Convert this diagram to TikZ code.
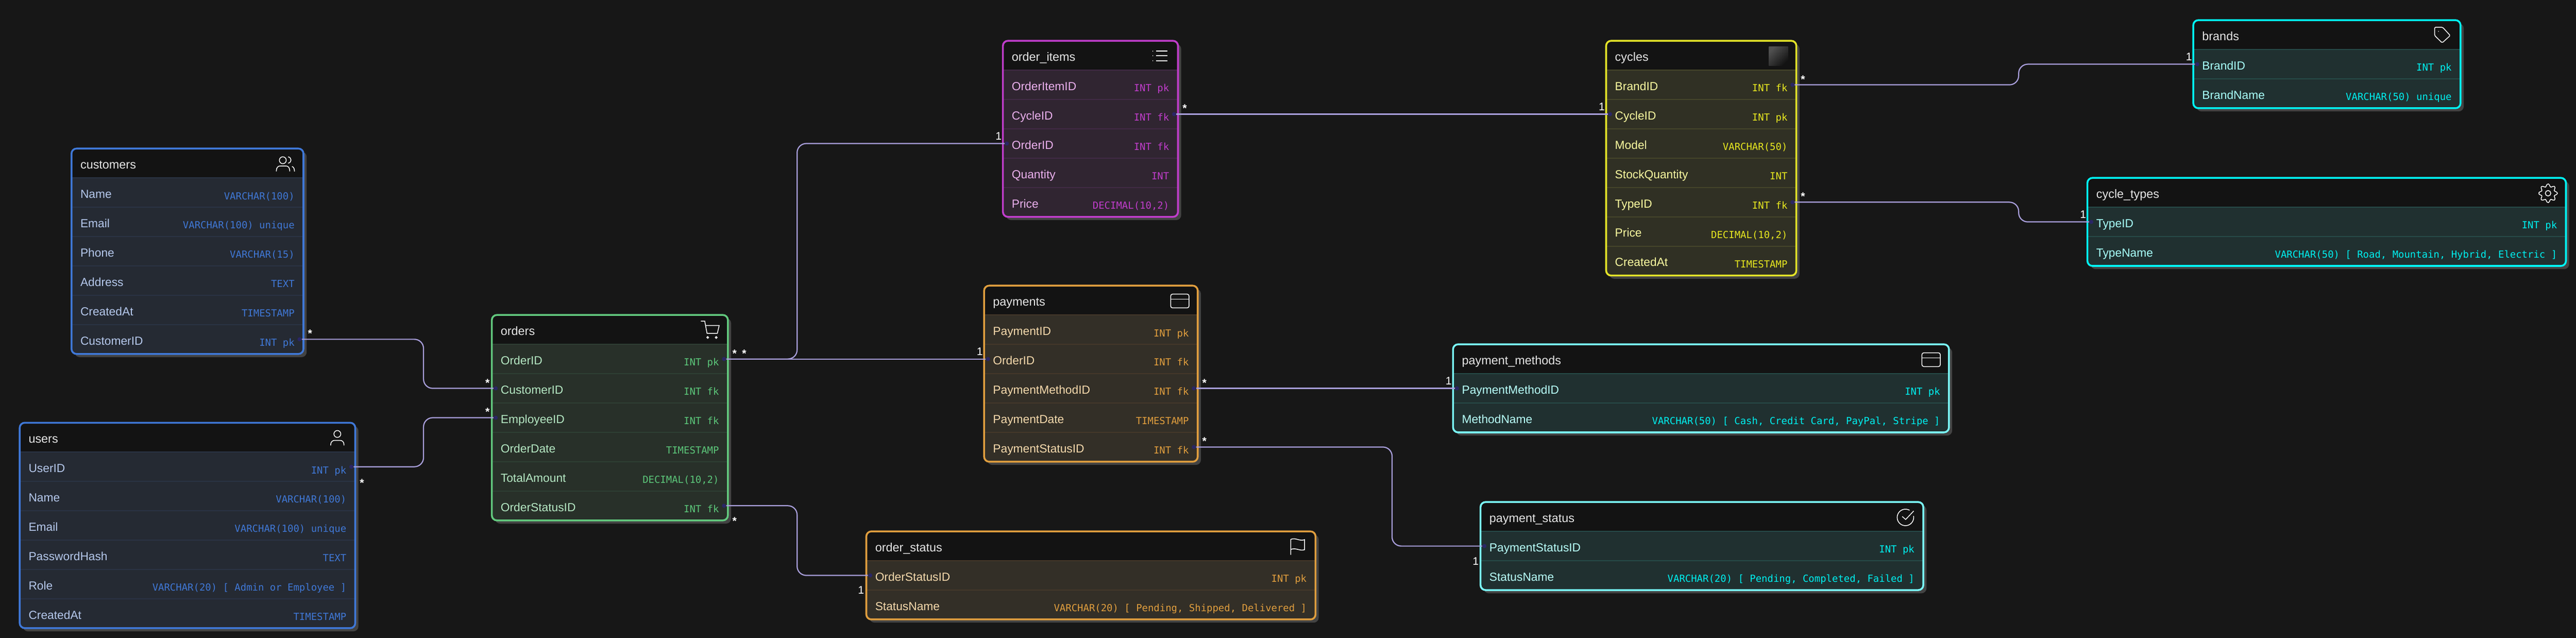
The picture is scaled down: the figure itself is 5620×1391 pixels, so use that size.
\documentclass[tikz,border=0pt]{standalone}
\usepackage{fontspec}
\setmainfont{Liberation Sans}
\newfontfamily\typefont{DejaVu Sans Mono}
\usetikzlibrary{positioning}
\definecolor{pagecol}{HTML}{171717}
\definecolor{headcol}{HTML}{131313}
\definecolor{shadowcol}{HTML}{434343}
\definecolor{photocol}{HTML}{505050}
\definecolor{titlecol}{HTML}{E6E6E6}
\definecolor{linkcol}{HTML}{A99FDC}
\definecolor{portcol}{HTML}{2A2666}
\definecolor{blueline}{HTML}{3F78D8}
\definecolor{bluerow}{HTML}{252A33}
\definecolor{bluesep}{HTML}{2A3344}
\definecolor{bluename}{HTML}{B5C8EC}
\definecolor{bluetype}{HTML}{4078D6}
\definecolor{greenline}{HTML}{62C97E}
\definecolor{greenrow}{HTML}{283029}
\definecolor{greensep}{HTML}{2E3F33}
\definecolor{greenname}{HTML}{B5E8C3}
\definecolor{greentype}{HTML}{5CC77A}
\definecolor{purpleline}{HTML}{C03DCB}
\definecolor{purplerow}{HTML}{302531}
\definecolor{purplesep}{HTML}{412A45}
\definecolor{purplename}{HTML}{EBB0EE}
\definecolor{purpletype}{HTML}{C03DCB}
\definecolor{orangeline}{HTML}{E09E3E}
\definecolor{orangerow}{HTML}{332F27}
\definecolor{orangesep}{HTML}{45382A}
\definecolor{orangename}{HTML}{F5D9AC}
\definecolor{orangetype}{HTML}{E09E3E}
\definecolor{yellowline}{HTML}{E4E428}
\definecolor{yellowrow}{HTML}{303024}
\definecolor{yellowsep}{HTML}{45452A}
\definecolor{yellowname}{HTML}{FBFBA0}
\definecolor{yellowtype}{HTML}{E8E820}
\definecolor{cyanline}{HTML}{00F5F5}
\definecolor{cyanrow}{HTML}{203030}
\definecolor{cyansep}{HTML}{264A48}
\definecolor{cyanname}{HTML}{A8FFFA}
\definecolor{cyantype}{HTML}{00F0F0}
\definecolor{aqualine}{HTML}{7AFAFA}
\definecolor{aquarow}{HTML}{203030}
\definecolor{aquasep}{HTML}{264A48}
\definecolor{aquaname}{HTML}{B8FFFA}
\definecolor{aquatype}{HTML}{00F0F0}
\newcommand{\ertable}[8]{
\fill[tableshadow] ({#2+7},{#3+7}) rectangle ({#4+7},{#3+71+64*#5});
\node[tablebox, minimum width={(#4-#2)*0.5pt}, minimum height={(#5+1)*32pt}] (#1) at (#2,#3) {};
\begin{scope}
\clip[rounded corners=5.5pt] (#1.north west) rectangle (#1.south east);
\foreach \fname/\ftype [count=\frow from 0] in {#8} {
\node[rowbox, fill=#6row, minimum width={(#4-#2)*0.5pt}] (#1-\fname) at ({#2},{#3+64+64*\frow}) {};
\draw[rowline, draw=#6sep] (#1-\fname.north west) -- (#1-\fname.north east);
\node[fieldname, text=#6name] (#1-\fname-name) at ([shift={(19,44)}]#1-\fname.north west) {\fname};
\node[fieldtype, text=#6type] (#1-\fname-type) at ([shift={(-19,47)}]#1-\fname.north east) {\ftype};
}
\end{scope}
\draw[tableedge, draw=#6line] (#1.north west) rectangle (#1.south east);
\node[tabletitle] (#1-title) at ([shift={(19,44)}]#1.north west) {\detokenize{#1}};
\pic at ([shift={(-39,33.5)}]#1.north east) {#7};
}
\begin{document}
\begin{tikzpicture}[x=0.5pt, y=-0.5pt,
tableshadow/.style = {fill=shadowcol, rounded corners=5.5pt},
tablebox/.style = {fill=headcol, anchor=north west, inner sep=0pt, outer sep=0pt, rounded corners=5.5pt},
tableedge/.style = {line width=2pt, rounded corners=5.5pt},
rowbox/.style = {anchor=north west, inner sep=0pt, outer sep=0pt, minimum height=32pt},
rowline/.style = {line width=1pt},
tabletitle/.style = {anchor=base west, inner sep=0pt, text=titlecol, font=\fontsize{13.15}{15}\selectfont},
fieldname/.style = {anchor=base west, inner sep=0pt, font=\fontsize{12.8}{15}\selectfont},
fieldtype/.style = {anchor=base east, inner sep=0pt, font=\typefont\fontsize{10.65}{13}\selectfont},
link/.style = {draw=linkcol, line width=1.25pt, rounded corners=10pt},
rightport/.style = {circle, fill=portcol, inner sep=0pt, minimum size=4.5pt, xshift=-4.25pt},
leftport/.style = {circle, fill=portcol, inner sep=0pt, minimum size=4.5pt, xshift=4.25pt},
manyend/.style = {anchor=base, inner sep=0pt, text=white, yshift=-7pt, font=\bfseries\fontsize{12}{14}\selectfont},
oneend/.style = {anchor=base, inner sep=0pt, text=white, yshift=-4.25pt, font=\fontsize{12}{14}\selectfont},
iconline/.style = {draw=white, line width=0.85pt},
usericon/.pic = {
\draw[iconline] (0,-9) circle (7.5);
\draw[iconline] (-14.5,16) -- (-14.5,14) .. controls (-14.5,8) and (-10,5) .. (-6,5) -- (6,5) .. controls (10,5) and (14.5,8) .. (14.5,14) -- (14.5,16);
},
peopleicon/.pic = {
\draw[iconline] (-6,-8) circle (7.5);
\draw[iconline] (-20,16.5) -- (-20,14) .. controls (-20,8) and (-16,4.5) .. (-12,4.5) -- (1,4.5) .. controls (5,4.5) and (9,8) .. (9,14) -- (9,16.5);
\draw[iconline] (5.5,-15.5) .. controls (14,-14) and (14,-3) .. (5.5,-1.5);
\draw[iconline] (14,5.5) .. controls (18,7) and (19.5,11) .. (19.5,16.5);
},
carticon/.pic = {
\draw[iconline] (-20,-20) -- (-11.5,-20) -- (-6.5,6.5) -- (16,6.5) -- (20,-10.5) -- (-9.5,-10.5);
\draw[iconline] (-5,15.5) circle (2);
\draw[iconline] (13.5,15.5) circle (2);
},
listicon/.pic = {
\foreach \ly in {-11,-1,10} {
\fill[white] (-16,\ly) circle (1);
\draw[iconline] (-8.5,\ly) -- (16,\ly);
}
},
cardicon/.pic = {
\draw[iconline, rounded corners=2pt] (-20,-15) rectangle (20,15);
\draw[iconline] (-20,-4) -- (20,-4);
},
flagicon/.pic = {
\draw[iconline] (-15,17.5) -- (-15,-16) .. controls (-5,-21) and (5,-11) .. (15,-15.5) -- (15,6.5) .. controls (5,10) and (-5,1) .. (-15,6);
},
photoicon/.pic = {
\shade[left color=photocol, right color=headcol, shading angle=45] (-21,-21) rectangle (21,21);
},
tagicon/.pic = {
\draw[iconline, rounded corners=1pt] (-17.5,-18) -- (0,-18) -- (16.5,0) -- (-1,16) -- (-17.5,0) -- cycle;
\fill[white] (-9,-9) circle (1);
},
gearicon/.pic = {
\draw[iconline] plot[domain=0:352, samples=45, smooth cycle] (\x:{17.5+3*cos(8*\x)});
\draw[iconline] (0,0) circle (6);
},
checkicon/.pic = {
\draw[iconline] (17.7,-3.1) arc[start angle=-10, end angle=300, radius=18];
\draw[iconline] (-7,-2) -- (0.5,4.5) -- (18,-14);
}]
\useasboundingbox (0,0) rectangle (5620,1391);
\fill[pagecol] (0,0) rectangle (5620,1391);
\ertable{customers}{156}{324}{662}{6}{blue}{peopleicon}{Name/VARCHAR(100), Email/VARCHAR(100) unique, Phone/VARCHAR(15), Address/TEXT, CreatedAt/TIMESTAMP, CustomerID/INT pk}
\ertable{users}{43}{922}{775}{6}{blue}{usericon}{UserID/INT pk, Name/VARCHAR(100), Email/VARCHAR(100) unique, PasswordHash/TEXT, Role/{VARCHAR(20) [ Admin or Employee ]}, CreatedAt/TIMESTAMP}
\ertable{orders}{1073}{687}{1588}{6}{green}{carticon}{OrderID/INT pk, CustomerID/INT fk, EmployeeID/INT fk, OrderDate/TIMESTAMP, TotalAmount/{DECIMAL(10,2)}, OrderStatusID/INT fk}
\ertable{order_items}{2188}{89}{2570}{5}{purple}{listicon}{OrderItemID/INT pk, CycleID/INT fk, OrderID/INT fk, Quantity/INT, Price/{DECIMAL(10,2)}}
\ertable{payments}{2147}{623}{2613}{5}{orange}{cardicon}{PaymentID/INT pk, OrderID/INT fk, PaymentMethodID/INT fk, PaymentDate/TIMESTAMP, PaymentStatusID/INT fk}
\ertable{order_status}{1890}{1159}{2870}{2}{orange}{flagicon}{OrderStatusID/INT pk, StatusName/{VARCHAR(20) [ Pending, Shipped, Delivered ]}}
\ertable{cycles}{3504}{89}{3919}{7}{yellow}{photoicon}{BrandID/INT fk, CycleID/INT pk, Model/VARCHAR(50), StockQuantity/INT, TypeID/INT fk, Price/{DECIMAL(10,2)}, CreatedAt/TIMESTAMP}
\ertable{brands}{4785}{44}{5368}{2}{cyan}{tagicon}{BrandID/INT pk, BrandName/VARCHAR(50) unique}
\ertable{cycle_types}{4554}{388}{5598}{2}{cyan}{gearicon}{TypeID/INT pk, TypeName/{VARCHAR(50) [ Road, Mountain, Hybrid, Electric ]}}
\ertable{payment_methods}{3170}{751}{4252}{2}{aqua}{cardicon}{PaymentMethodID/INT pk, MethodName/{VARCHAR(50) [ Cash, Credit Card, PayPal, Stripe ]}}
\ertable{payment_status}{3230}{1095}{4196}{2}{aqua}{checkicon}{PaymentStatusID/INT pk, StatusName/{VARCHAR(20) [ Pending, Completed, Failed ]}}
\node[rightport] (customers-CustomerID-p) at (customers-CustomerID.east) {};
\node[rightport] (users-UserID-p) at (users-UserID.east) {};
\node[leftport] (orders-CustomerID-p) at (orders-CustomerID.west) {};
\node[leftport] (orders-EmployeeID-p) at (orders-EmployeeID.west) {};
\node[rightport] (orders-OrderID-p) at (orders-OrderID.east) {};
\node[rightport] (orders-OrderStatusID-p) at (orders-OrderStatusID.east) {};
\node[leftport] (order_items-OrderID-p) at (order_items-OrderID.west) {};
\node[rightport] (order_items-CycleID-p) at (order_items-CycleID.east) {};
\node[leftport] (payments-OrderID-p) at (payments-OrderID.west) {};
\node[rightport] (payments-PaymentMethodID-p) at (payments-PaymentMethodID.east) {};
\node[rightport] (payments-PaymentStatusID-p) at (payments-PaymentStatusID.east) {};
\node[leftport] (order_status-OrderStatusID-p) at (order_status-OrderStatusID.west) {};
\node[leftport] (cycles-CycleID-p) at (cycles-CycleID.west) {};
\node[rightport] (cycles-BrandID-p) at (cycles-BrandID.east) {};
\node[rightport] (cycles-TypeID-p) at (cycles-TypeID.east) {};
\node[leftport] (brands-BrandID-p) at (brands-BrandID.west) {};
\node[leftport] (cycle_types-TypeID-p) at (cycle_types-TypeID.west) {};
\node[leftport] (payment_methods-PaymentMethodID-p) at (payment_methods-PaymentMethodID.west) {};
\node[leftport] (payment_status-PaymentStatusID-p) at (payment_status-PaymentStatusID.west) {};
\coordinate (bend1) at (924,0);
\coordinate (bend2) at (1739,0);
\coordinate (bend3) at (4404,0);
\coordinate (bend4) at (3037,0);
\draw[link] (customers-CustomerID-p) -| (bend1 |- orders-CustomerID-p) -- (orders-CustomerID-p);
\draw[link] (users-UserID-p) -| (bend1 |- orders-EmployeeID-p) -- (orders-EmployeeID-p);
\draw[link] (orders-OrderID-p) -| (bend2 |- order_items-OrderID-p) -- (order_items-OrderID-p);
\draw[link] (orders-OrderID-p) -- (payments-OrderID-p);
\draw[link] (orders-OrderStatusID-p) -| (bend2 |- order_status-OrderStatusID-p) -- (order_status-OrderStatusID-p);
\draw[link] (order_items-CycleID-p) -- (cycles-CycleID-p);
\draw[link] (cycles-BrandID-p) -| (bend3 |- brands-BrandID-p) -- (brands-BrandID-p);
\draw[link] (cycles-TypeID-p) -| (bend3 |- cycle_types-TypeID-p) -- (cycle_types-TypeID-p);
\draw[link] (payments-PaymentMethodID-p) -- (payment_methods-PaymentMethodID-p);
\draw[link] (payments-PaymentStatusID-p) -| (bend4 |- payment_status-PaymentStatusID-p) -- (payment_status-PaymentStatusID-p);
\node[manyend] (star1) at ([shift={(23,-18)}]customers-CustomerID-p) {*};
\node[manyend] (star2) at ([shift={(23,30)}]users-UserID-p) {*};
\node[manyend] (star3) at ([shift={(-18,-18)}]orders-CustomerID-p) {*};
\node[manyend] (star4) at ([shift={(-18,-18)}]orders-EmployeeID-p) {*};
\node[manyend] (star5) at ([shift={(23,-18)}]orders-OrderID-p) {*};
\node[manyend] (star6) at ([shift={(44,-18)}]orders-OrderID-p) {*};
\node[manyend] (star7) at ([shift={(23,28)}]orders-OrderStatusID-p) {*};
\node[manyend] (star8) at ([shift={(23,-18)}]order_items-CycleID-p) {*};
\node[manyend] (star9) at ([shift={(23,-18)}]payments-PaymentMethodID-p) {*};
\node[manyend] (star10) at ([shift={(23,-18)}]payments-PaymentStatusID-p) {*};
\node[manyend] (star11) at ([shift={(23,-18)}]cycles-BrandID-p) {*};
\node[manyend] (star12) at ([shift={(23,-18)}]cycles-TypeID-p) {*};
\node[oneend] (one1) at ([shift={(-18,-16)}]order_items-OrderID-p) {1};
\node[oneend] (one2) at ([shift={(-18,-16)}]payments-OrderID-p) {1};
\node[oneend] (one3) at ([shift={(-20,32)}]order_status-OrderStatusID-p) {1};
\node[oneend] (one4) at ([shift={(-18,-16)}]cycles-CycleID-p) {1};
\node[oneend] (one5) at ([shift={(-18,-16)}]brands-BrandID-p) {1};
\node[oneend] (one6) at ([shift={(-18,-16)}]cycle_types-TypeID-p) {1};
\node[oneend] (one7) at ([shift={(-18,-16)}]payment_methods-PaymentMethodID-p) {1};
\node[oneend] (one8) at ([shift={(-19,33)}]payment_status-PaymentStatusID-p) {1};
\end{tikzpicture}
\end{document}
